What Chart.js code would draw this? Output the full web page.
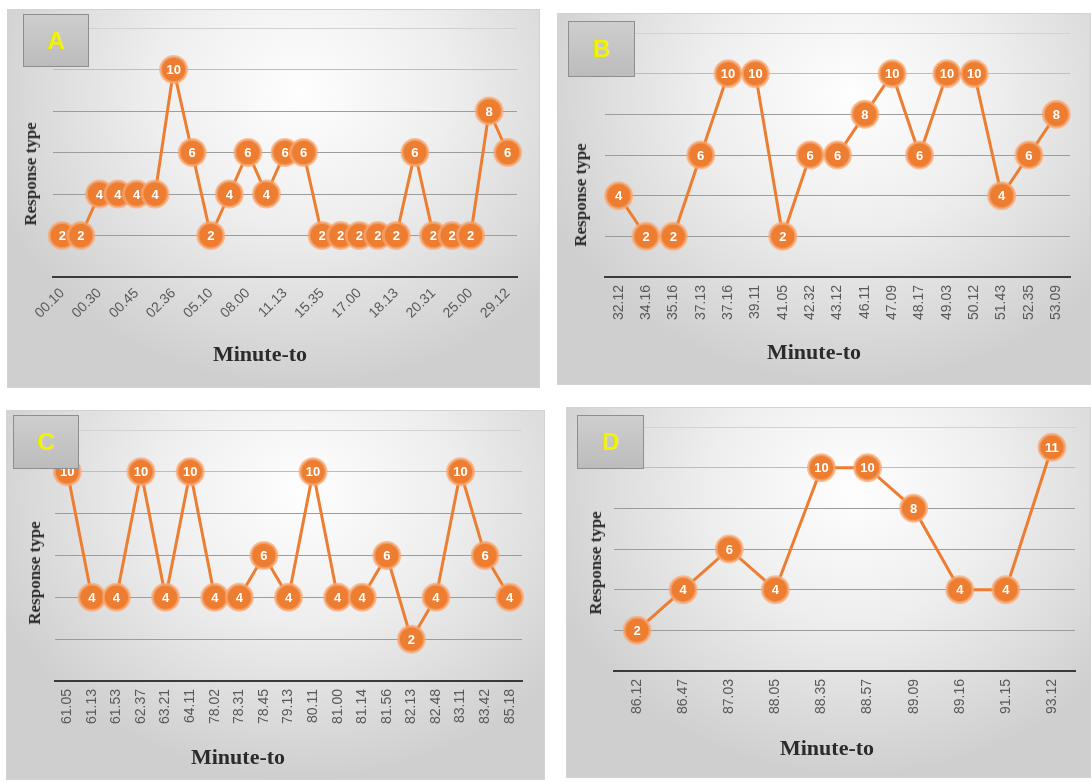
<!DOCTYPE html>
<html>
<head>
<meta charset="utf-8">
<script src="https://cdn.jsdelivr.net/npm/chart.js@4.4.1/dist/chart.umd.min.js"></script>
<style>
  body { margin: 0; width: 1091px; height: 782px; background: #fff; position: relative; overflow: hidden; }
  .panel { position: absolute; box-sizing: border-box; border: 1px solid #d2d2d2;
    background: radial-gradient(ellipse 62% 78% at 55% 22%, #fefefe 0%, #eeeeee 45%, #cfcfcf 100%); }
  canvas { position: absolute; }
  .tag { position: absolute; box-sizing: border-box; border: 1px solid #8e8e8e;
    background: linear-gradient(#cecece, #bcbcbc); color: #f2f200;
    font: bold 24px "Liberation Sans", sans-serif; display: flex; align-items: center; justify-content: center; }
  .xtitle, .ytitle { position: absolute; white-space: nowrap; color: #2b2b2b;
    font: bold 22px "Liberation Serif", serif; transform: translate(-50%, -50%); }
  .ytitle { font-size: 17px; transform: translate(-50%, -50%) rotate(-90deg); }
</style>
</head>
<body>
<script>
// panel A
const labelsA = ['00.10', '', '00.30', '', '00.45', '', '02.36', '', '05.10', '', '08.00', '', '11.13', '',
  '15.35', '', '17.00', '', '18.13', '', '20.31', '', '25.00', '', '29.12'];
const valuesA = [2, 2, 4, 4, 4, 4, 10, 6, 2, 4, 6, 4, 6, 6, 2, 2, 2, 2, 2, 6, 2, 2, 2, 8, 6];

// panel B
const labelsB = ['32.12', '34.16', '35.16', '37.13', '37.16', '39.11', '41.05', '42.32', '43.12', '46.11',
  '47.09', '48.17', '49.03', '50.12', '51.43', '52.35', '53.09'];
const valuesB = [4, 2, 2, 6, 10, 10, 2, 6, 6, 8, 10, 6, 10, 10, 4, 6, 8];

// panel C
const labelsC = ['61.05', '61.13', '61.53', '62.37', '63.21', '64.11', '78.02', '78.31', '78.45', '79.13',
  '80.11', '81.00', '81.14', '81.56', '82.13', '82.48', '83.11', '83.42', '85.18'];
const valuesC = [10, 4, 4, 10, 4, 10, 4, 4, 6, 4, 10, 4, 4, 6, 2, 4, 10, 6, 4];

// panel D
const labelsD = ['86.12', '86.47', '87.03', '88.05', '88.35', '88.57', '89.09', '89.16', '91.15', '93.12'];
const valuesD = [2, 4, 6, 4, 10, 10, 8, 4, 4, 11];

const xTitle = 'Minute-to';
const yTitle = 'Response type';
const ORANGE = '#ED7D31';

// white numbers inside the markers
const pointText = {
  id: 'pointText',
  afterDatasetsDraw(chart) {
    const ctx = chart.ctx;
    const meta = chart.getDatasetMeta(0);
    const vals = chart.data.datasets[0].data;
    ctx.save();
    ctx.fillStyle = '#fff';
    ctx.font = 'bold 13px "Liberation Sans"';
    ctx.textAlign = 'center';
    ctx.textBaseline = 'middle';
    meta.data.forEach((pt, i) => ctx.fillText(vals[i], pt.x, pt.y + 1));
    ctx.restore();
  }
};

function gridColor(c) {
  const v = c.tick.value;
  if (v === 0) return '#3a3a3a';
  if (v === 12) return '#d2d2d2';
  if (v === 10) return '#bdbdbd';
  return '#9c9c9c';
}

function addEl(cls, x, y, w, h, text) {
  const el = document.createElement('div');
  el.className = cls;
  el.style.left = x + 'px';
  el.style.top = y + 'px';
  if (w) el.style.width = w + 'px';
  if (h) el.style.height = h + 'px';
  if (text) el.textContent = text;
  document.body.appendChild(el);
  return el;
}

function makePanel(p) {
  addEl('panel', p.x, p.y, p.w, p.h);

  const canvas = document.createElement('canvas');
  canvas.width = p.w;
  canvas.height = p.h;
  canvas.style.left = p.x + 'px';
  canvas.style.top = p.y + 'px';
  document.body.appendChild(canvas);

  new Chart(canvas, {
    type: 'line',
    data: {
      labels: p.labels,
      datasets: [{
        data: p.values,
        borderColor: ORANGE,
        borderWidth: 3,
        tension: 0,
        pointRadius: 13,
        pointBackgroundColor: ORANGE,
        pointBorderColor: 'rgba(248,168,115,0.7)',
        pointBorderWidth: 3,
        clip: false
      }]
    },
    options: {
      responsive: false,
      animation: false,
      layout: { padding: p.pad },
      plugins: { legend: { display: false }, tooltip: { enabled: false } },
      scales: {
        x: {
          offset: true,
          grid: { display: false, drawTicks: false },
          border: { color: '#3a3a3a', width: 2 },
          ticks: {
            autoSkip: false,
            minRotation: p.rot,
            maxRotation: p.rot,
            padding: 8,
            color: '#595959',
            font: { size: 14, family: 'Liberation Sans' }
          },
          afterFit: s => { s.height = 70; }
        },
        y: {
          min: 0,
          max: 12,
          ticks: { display: false, stepSize: 2 },
          grid: { drawTicks: false, color: gridColor },
          border: { display: false },
          afterFit: s => { s.width = 0; }
        }
      }
    },
    plugins: [pointText]
  });

  addEl('tag', p.tag[0], p.tag[1], p.tag[2], p.tag[3], p.letter);
  addEl('xtitle', p.xt[0], p.xt[1], 0, 0, xTitle);
  addEl('ytitle', p.yt[0], p.yt[1], 0, 0, yTitle);
}

makePanel({ x: 7, y: 9, w: 533, h: 379, pad: { left: 46, top: 19, right: 23, bottom: 41 }, rot: 45,
  labels: labelsA, values: valuesA, letter: 'A', tag: [23, 14, 66, 53], xt: [260, 354], yt: [31, 174] });
makePanel({ x: 557, y: 13, w: 534, h: 372, pad: { left: 48, top: 20, right: 21, bottom: 38 }, rot: 90,
  labels: labelsB, values: valuesB, letter: 'B', tag: [568, 21, 67, 56], xt: [814, 352], yt: [581, 195] });
makePanel({ x: 6, y: 410, w: 539, h: 370, pad: { left: 49, top: 20, right: 23, bottom: 29 }, rot: 90,
  labels: labelsC, values: valuesC, letter: 'C', tag: [13, 415, 66, 54], xt: [238, 757], yt: [35, 573] });
makePanel({ x: 566, y: 407, w: 525, h: 371, pad: { left: 48, top: 20, right: 15, bottom: 37 }, rot: 90,
  labels: labelsD, values: valuesD, letter: 'D', tag: [577, 415, 67, 54], xt: [827, 748], yt: [596, 563] });
</script>
</body>
</html>
